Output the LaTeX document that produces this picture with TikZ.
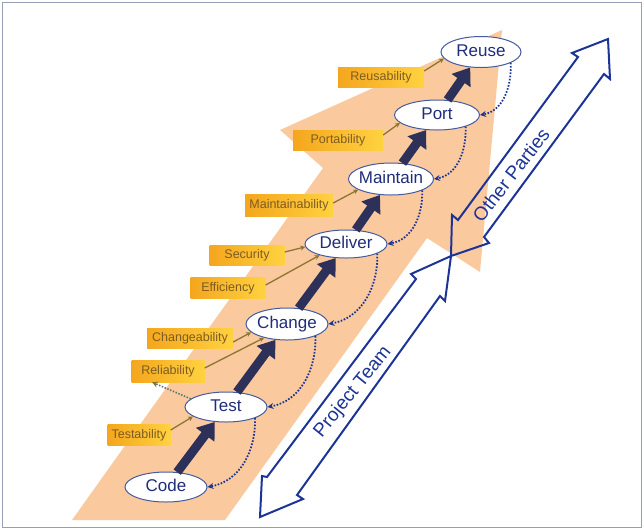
\documentclass[tikz,border=0pt]{standalone}
\usepackage{fontspec}
\setmainfont{Liberation Sans}
\usetikzlibrary{arrows.meta,shapes.geometric}
\definecolor{peach}{RGB}{250,201,158}
\definecolor{navy}{RGB}{31,45,122}
\definecolor{arrowblue}{RGB}{28,52,150}
\definecolor{ellborder}{RGB}{70,90,160}
\definecolor{bigarr}{RGB}{45,48,88}
\definecolor{goldL}{RGB}{244,166,30}
\definecolor{goldR}{RGB}{255,210,64}
\definecolor{labtext}{RGB}{125,92,35}
\definecolor{olive}{RGB}{140,118,50}
\definecolor{framecol}{RGB}{150,160,180}
\definecolor{dotgreen}{RGB}{90,120,110}
\newcommand\ctext[1]{\makebox[0pt][c]{#1}}
\begin{document}
\begin{tikzpicture}[x=1pt,y=1pt,
  stage/.style={ellipse, draw=ellborder, line width=1pt, fill=white, inner sep=0pt,
    text height=12pt, text depth=3.5pt, font=\fontsize{17}{17}\selectfont, text=navy},
  quality/.style={rectangle, left color=goldL, right color=goldR, draw=none, inner sep=0pt,
    minimum height=20pt, font=\fontsize{12.5}{12.5}\selectfont, text=labtext},
  bigarrow/.style={draw=bigarr, line width=9pt, -{Triangle[width=22pt,length=16pt]}},
  feedback/.style={draw=arrowblue, line width=1.8pt, dash pattern=on 1.6pt off 1.6pt,
    -{Stealth[length=6pt,width=6pt]}},
  qarrow/.style={draw=olive, line width=1.3pt, -{Stealth[length=5pt,width=5pt]}},
  relarrow/.style={draw=dotgreen, line width=1.6pt, dash pattern=on 1.5pt off 1.5pt,
    -{Stealth[length=6pt,width=6pt,color=olive]}},
  partyarrow/.style={draw=arrowblue, line width=2pt, line join=miter},
  partytext/.style={text=arrowblue, font=\fontsize{19}{19}\selectfont, inner sep=0pt}
]
\useasboundingbox (0,0) rectangle (644,-531);
\draw[framecol, line width=1.5pt] (2.5,-2.5) rectangle (641.5,-527.5);

% big peach arrow
\fill[peach] (72,-520) -- (323,-168) -- (280,-130) -- (502,-30) -- (480,-272)
  -- (427,-238) -- (225,-520) -- cycle;

% double arrows
\draw[partyarrow] (608,-39) -- (572,-53) -- (578,-57) -- (458,-220) -- (452,-215)
  -- (451,-256) -- (489,-243) -- (484,-237) -- (604,-74) -- (610,-79) -- cycle;
\draw[partyarrow] (451,-256) -- (411,-274) -- (416,-279) -- (267,-477) -- (262,-476)
  -- (260,-517) -- (303,-499) -- (297,-495) -- (440,-296) -- (445,-301) -- cycle;
\node[partytext, rotate=52] (other) at (511,-175) {Other Parties};
\node[partytext, rotate=51] (team) at (353,-392) {Project Team};

% stages
\node[stage, minimum width=82pt, minimum height=30pt] (code) at (166,-487) {\ctext{Code}};
\node[stage, minimum width=82pt, minimum height=30pt] (test) at (226,-407) {\ctext{Test}};
\node[stage, minimum width=82pt, minimum height=32pt] (change) at (287,-324) {\ctext{Change}};
\node[stage, minimum width=82pt, minimum height=28pt] (deliver) at (346,-244) {\ctext{Deliver}};
\node[stage, minimum width=85pt, minimum height=32pt] (maintain) at (391,-179) {\ctext{Maintain}};
\node[stage, minimum width=85pt, minimum height=30pt] (port) at (437,-115) {\ctext{Port}};
\node[stage, minimum width=80pt, minimum height=31pt] (reuse) at (481,-52) {\ctext{Reuse}};

% main flow
\draw[bigarrow] (code) -- (test);
\draw[bigarrow] (test) -- (change);
\draw[bigarrow] (change) -- (deliver);
\draw[bigarrow] (deliver) -- (maintain);
\draw[bigarrow] (maintain) -- (port);
\draw[bigarrow] (port) -- (reuse);

% feedback loops
\draw[feedback] (reuse.-20) to[out=-88,in=10] (port.east);
\draw[feedback] (port.-22) to[out=-88,in=10] (maintain.east);
\draw[feedback] (maintain.-20) to[out=-88,in=10] (deliver.east);
\draw[feedback] (deliver.-17) to[out=-88,in=10] (change.east);
\draw[feedback] (change.-23) to[out=-88,in=10] (test.east);
\draw[feedback] (test.-21) to[out=-88,in=10] (code.east);

% quality labels
\node[quality, minimum width=86pt] (reusab) at (381,-77) {Reusability};
\node[quality, minimum width=90pt] (portab) at (338,-140) {Portability};
\node[quality, minimum width=88pt, minimum height=22pt] (maintab) at (289,-205) {Maintainability};
\node[quality, minimum width=75pt] (secur) at (247,-255) {Security};
\node[quality, minimum width=75pt, minimum height=21pt] (effic) at (228,-288) {Efficiency};
\node[quality, minimum width=86pt] (changeab) at (190,-338) {Changeability};
\node[quality, minimum width=73pt, minimum height=22pt] (relia) at (168,-371) {Reliability};
\node[quality, minimum width=63pt, minimum height=21pt] (testab) at (139,-435) {Testability};

\draw[qarrow] ([yshift=6pt]reusab.east) -- (reuse.190);
\draw[qarrow] ([yshift=5pt]portab.east) -- (port.192);
\draw[qarrow] ([yshift=2pt]maintab.east) -- (maintain.198);
\draw[qarrow] ([yshift=3pt]secur.east) -- (deliver.184);
\draw[qarrow] ([yshift=3pt]effic.east) -- (deliver.203);
\draw[qarrow] ([yshift=-4pt]changeab.east) -- (change.193);
\draw[qarrow] ([yshift=3pt]relia.east) -- (change.211);
\draw[qarrow] ([yshift=5pt]testab.east) -- (test.196);
\draw[relarrow] (test.167) -- ([xshift=-16pt]relia.south);
\end{tikzpicture}
\end{document}
